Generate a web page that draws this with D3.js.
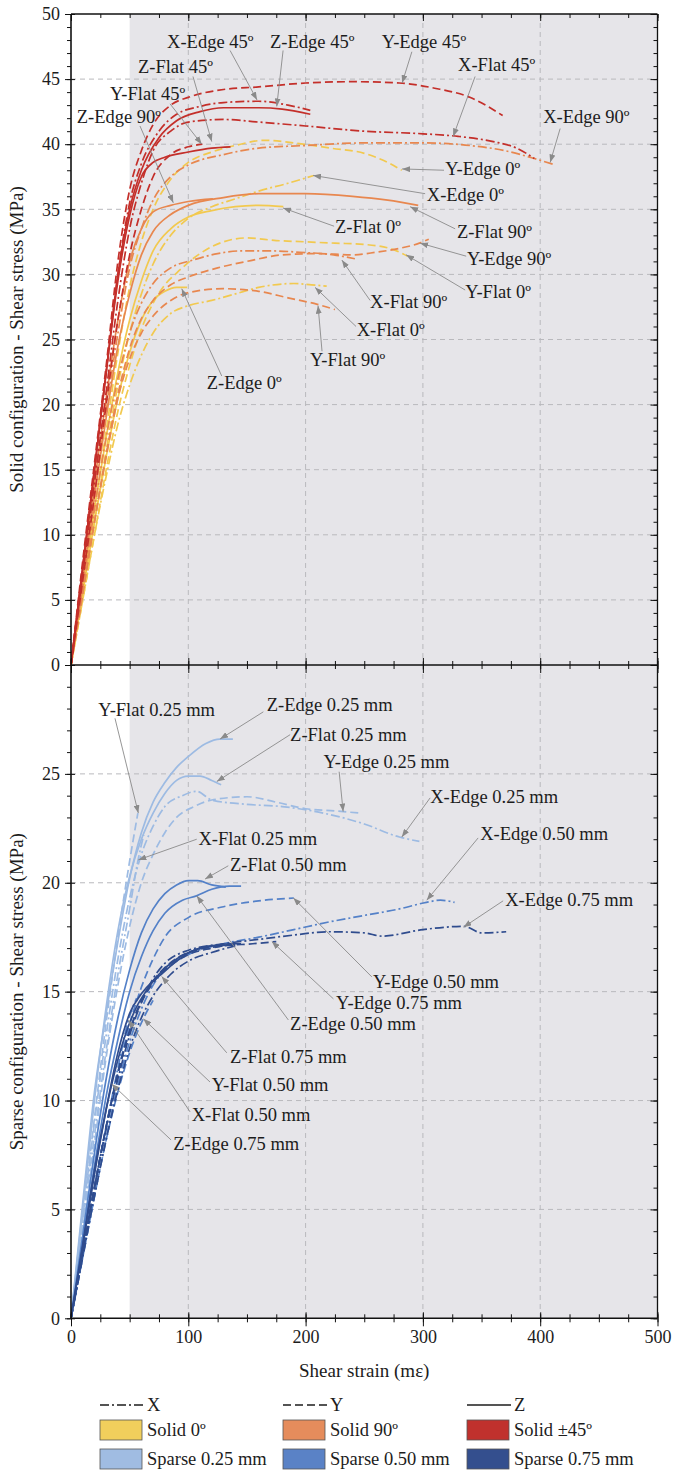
<!DOCTYPE html>
<html>
<head>
<meta charset="utf-8">
<script src="https://cdn.jsdelivr.net/npm/d3@7"></script>
<style>
  body { margin: 0; background: #fff; }
  svg text { font-family: "Liberation Serif", Tinos, "Times New Roman", Times, "DejaVu Serif", serif; fill: #1c1c1c; }
</style>
</head>
<body>
<div id="chart"></div>
<script>
// Shear stress vs shear strain - solid (top) and sparse (bottom) configurations

// ---- Solid configuration curves [strain (mε), stress (MPa)]
const xEdge0 = [[0,0],[10,5.5],[20,11],[30,16.5],[40,21.5],[50,25.5],[60,28.5],[70,30.8],[85,33],[100,34.3],[120,35.2],[140,35.8],[160,36.4],[185,37],[207,37.6]];
const yEdge0 = [[0,0],[10,6],[20,12],[30,18],[40,24],[50,29],[60,32.5],[70,35],[85,37.3],[100,38.6],[120,39.4],[140,39.9],[165,40.3],[190,40.1],[221,39.7],[250,39.3],[270,38.6],[282,38]];
const zEdge0 = [[0,0],[10,5.5],[20,11],[30,16],[40,20.5],[50,24],[60,26.5],[70,28],[80,28.7],[90,29],[99,29]];
const xFlat0 = [[0,0],[10,5],[20,10],[30,14.5],[40,18.5],[50,21.5],[60,23.8],[70,25.5],[85,27],[100,27.6],[120,28],[140,28.5],[160,29],[190,29.3],[205,29.2],[218,29.1]];
const yFlat0 = [[0,0],[10,5],[20,10],[30,15],[40,19.5],[50,23],[60,25.8],[70,27.8],[80,29.2],[90,30.1],[110,31.6],[130,32.5],[150,32.8],[175,32.6],[200,32.5],[225,32.4],[250,32.3],[275,31.9],[287,31.4]];
const zFlat0 = [[0,0],[10,6],[20,12],[30,17.5],[40,22.5],[50,26.5],[60,29.5],[70,31.8],[85,33.5],[100,34.4],[120,34.9],[140,35.2],[160,35.3],[181,35.2]];

const xEdge90 = [[0,0],[10,6.5],[20,13],[30,19.5],[40,25.5],[50,30.5],[60,33.5],[70,35.7],[85,37.5],[100,38.4],[130,39.2],[160,39.7],[200,39.9],[250,40.1],[300,40.1],[340,39.9],[370,39.5],[395,38.9],[413,38.4]];
const yEdge90 = [[0,0],[10,5.5],[20,11],[30,16.2],[40,20.8],[50,24.3],[60,26.6],[70,28],[85,29.2],[100,29.8],[125,30.5],[150,31],[180,31.5],[210,31.6],[240,31.5],[260,31.7],[280,32],[297,32.4],[305,32.7]];
const zEdge90 = [[0,0],[10,7],[20,14],[30,20.5],[40,26.5],[50,31],[60,33.5],[70,34.8],[85,35.3],[100,35.6],[121,35.8]];
const xFlat90 = [[0,0],[10,6],[20,12],[30,17.5],[40,22],[50,25.5],[60,27.8],[70,29.3],[85,30.5],[104,31.1],[125,31.6],[144,31.8],[172,31.8],[195,31.7],[224,31.5],[242,31.2]];
const yFlat90 = [[0,0],[10,5.5],[20,11],[30,16],[40,20.5],[50,23.5],[60,25.5],[70,26.8],[85,28],[100,28.6],[130,28.9],[160,28.7],[185,28.2],[210,27.7],[225,27.3]];
const zFlat90 = [[0,0],[10,6.5],[20,13],[30,19],[40,24.5],[50,28.5],[60,31.5],[70,33.3],[85,34.6],[100,35.3],[130,35.9],[160,36.2],[200,36.2],[240,36],[270,35.7],[296,35.3]];

const xEdge45 = [[0,0],[10,7.5],[20,15],[30,22.5],[40,30],[50,35.5],[60,38.5],[75,41],[90,42.3],[110,42.9],[130,43.2],[160,43.3],[185,43],[204,42.6]];
const yEdge45 = [[0,0],[10,8],[20,15.5],[30,23],[40,31],[50,36.5],[60,39.5],[70,41.5],[85,43],[100,43.6],[130,44.2],[160,44.4],[200,44.7],[240,44.8],[280,44.7],[310,44.3],[340,43.6],[368,42.2]];
const zEdge45 = [[0,0],[10,7.5],[20,15],[30,22.5],[40,30],[50,35],[60,38],[75,40.5],[90,41.8],[110,42.5],[130,42.8],[160,42.8],[180,42.7],[204,42.3]];
const xFlat45 = [[0,0],[10,7],[20,14],[30,21],[40,28],[50,33.5],[60,37],[70,39.5],[85,41],[100,41.7],[130,41.9],[160,41.7],[200,41.4],[250,41],[300,40.8],[330,40.6],[360,40.2],[380,39.7],[395,38.9]];
const yFlat45 = [[0,0],[10,6.5],[20,13],[30,20],[40,26.5],[50,31.5],[60,35],[70,37.5],[85,39.2],[100,39.8],[112,40]];
const zFlat45 = [[0,0],[10,7.5],[20,15],[30,22.5],[40,29.5],[50,34.5],[60,37.5],[70,38.6],[80,39],[100,39.4],[120,39.7],[136,39.8]];

// ---- Sparse configuration curves
const xEdge025 = [[0,0],[10,4.5],[20,9],[30,13],[40,16.5],[50,19.3],[60,21.3],[70,22.6],[80,23.5],[95,24],[107,24.2],[120,23.8],[150,23.6],[180,23.5],[215,23.2],[250,22.7],[280,22.1],[297,21.9]];
const yEdge025 = [[0,0],[10,4],[20,8],[30,12],[40,15.3],[50,18],[60,20],[70,21.3],[80,22.3],[90,23],[105,23.5],[120,23.8],[150,23.95],[175,23.7],[200,23.4],[225,23.3],[246,23.2]];
const zEdge025 = [[0,0],[10,5.3],[20,10.4],[30,14],[40,17.3],[50,20.2],[60,22.3],[70,23.7],[80,24.6],[90,25.3],[100,25.8],[115,26.4],[127,26.6],[138,26.6]];
const xFlat025 = [[0,0],[10,4.2],[20,8.4],[30,12.3],[40,15.8],[50,18.8],[57,21],[62,22.2]];
const yFlat025 = [[0,0],[10,4.6],[20,9.2],[30,13.6],[40,17.5],[50,21],[57,23.2]];
const zFlat025 = [[0,0],[10,5],[20,10],[30,14.3],[40,17.8],[50,20.3],[60,22],[70,23.2],[80,24.1],[90,24.7],[100,24.9],[110,24.9],[120,24.7],[128,24.5]];

const xEdge050 = [[0,0],[10,2.8],[20,5.6],[30,8.3],[40,10.7],[50,12.7],[60,14.2],[70,15.3],[80,16],[100,16.7],[130,17.2],[160,17.5],[190,17.85],[220,18.2],[250,18.5],[280,18.8],[303,19.1],[315,19.2],[327,19.1]];
const yEdge050 = [[0,0],[10,3],[20,6],[30,8.8],[40,11.3],[50,13.5],[60,15.2],[70,16.5],[80,17.5],[100,18.4],[130,18.9],[165,19.2],[190,19.3]];
const zEdge050 = [[0,0],[10,3.5],[20,7],[30,10.2],[40,12.8],[50,15],[60,16.6],[70,17.8],[80,18.6],[95,19.2],[107,19.4],[120,19.7],[135,19.85],[145,19.85]];
const xFlat050 = [[0,0],[10,3],[20,6],[30,8.8],[40,11.5],[49,13.7],[56,14.7]];
const yFlat050 = [[0,0],[10,2.8],[20,5.6],[30,8.2],[40,10.4],[50,12.2],[62,13.8],[70,14.6]];
const zFlat050 = [[0,0],[10,3.8],[20,7.6],[30,11],[40,13.8],[50,16],[60,17.7],[70,18.8],[80,19.5],[90,19.9],[100,20.1],[108,20.1],[120,19.9],[132,19.8]];

const xEdge075 = [[0,0],[10,3],[20,6],[30,8.7],[40,11],[50,13],[60,14.5],[70,15.6],[80,16.3],[100,16.9],[130,17.2],[160,17.4],[190,17.6],[220,17.75],[250,17.7],[265,17.55],[300,17.85],[335,18],[350,17.7],[371,17.75]];
const yEdge075 = [[0,0],[10,3],[20,6],[30,8.8],[40,11.2],[50,13.2],[60,14.6],[70,15.5],[80,16.1],[100,16.8],[130,17.1],[155,17.2],[175,17.3]];
const zEdge075 = [[0,0],[10,3.4],[20,6.8],[30,9.6],[35,10.8],[45,12.8],[55,14.2],[65,15.1],[75,15.8],[90,16.5],[105,16.9],[120,17.1],[140,17.15]];
const xFlat075 = [[0,0],[10,2.8],[20,5.6],[30,8.2],[40,10.5],[50,12.4],[60,13.8],[70,14.8],[85,15.8],[100,16.4],[120,16.8],[140,17.1]];
const yFlat075 = [[0,0],[10,3],[20,6],[30,8.8],[40,11.3],[50,13.2],[60,14.5],[70,15.4],[85,16.2],[100,16.7],[120,17],[140,17.2]];
const zFlat075 = [[0,0],[10,3.3],[20,6.6],[30,9.6],[40,12.2],[50,14],[60,14.9],[70,15.5],[77,15.8],[90,16.4],[105,16.9],[120,17.1],[135,17.2],[145,17.2]];

// ---- series tables: [group, direction, points]
const solidSeries = [
  ["s0","X",xEdge0],["s0","Y",yEdge0],["s0","Z",zEdge0],["s0","X",xFlat0],["s0","Y",yFlat0],["s0","Z",zFlat0],
  ["s90","X",xEdge90],["s90","Y",yEdge90],["s90","Z",zEdge90],["s90","X",xFlat90],["s90","Y",yFlat90],["s90","Z",zFlat90],
  ["s45","X",xEdge45],["s45","Y",yEdge45],["s45","Z",zEdge45],["s45","X",xFlat45],["s45","Y",yFlat45],["s45","Z",zFlat45]
];
const sparseSeries = [
  ["p25","X",xEdge025],["p25","Y",yEdge025],["p25","Z",zEdge025],["p25","X",xFlat025],["p25","Y",yFlat025],["p25","Z",zFlat025],
  ["p50","X",xEdge050],["p50","Y",yEdge050],["p50","Z",zEdge050],["p50","X",xFlat050],["p50","Y",yFlat050],["p50","Z",zFlat050],
  ["p75","X",xEdge075],["p75","Y",yEdge075],["p75","Z",zEdge075],["p75","X",xFlat075],["p75","Y",yFlat075],["p75","Z",zFlat075]
];

// ---- annotations: [text, text x, text y, arrow from x, y, arrow to x, y] in data units
const solidNotes = [
  ["X-Edge 45º", 81.9, 47.4, 135.6, 47.2, 158.6, 43.4],
  ["Z-Edge 45º", 169.7, 47.4, 180.8, 47.2, 175.4, 42.9],
  ["Y-Edge 45º", 265, 47.4, 290.6, 47.1, 282.3, 44.7],
  ["X-Flat 45º", 330, 45.6, 344.5, 45.2, 325.8, 40.6],
  ["Z-Flat 45º", 57.1, 45.5, 104, 45.2, 120, 40.2],
  ["Y-Flat 45º", 33.3, 43.4, 84.4, 43.1, 111.5, 40.0],
  ["Z-Edge 90º", 4.9, 41.6, 58.8, 41.4, 87.2, 35.5],
  ["X-Edge 90º", 402.5, 41.6, 417, 41.2, 408.5, 38.6],
  ["Y-Edge 0º", 319, 37.6, 318, 38.0, 282.3, 38.1],
  ["X-Edge 0º", 303.3, 35.6, 301.9, 36.2, 206.4, 37.6],
  ["Z-Flat 90º", 329, 32.8, 327.5, 33.5, 289.1, 35.2],
  ["Z-Flat 0º", 225.1, 33.2, 224.3, 33.7, 180.8, 35.1],
  ["Y-Edge 90º", 337.5, 30.7, 336.9, 31.4, 297.6, 32.4],
  ["Y-Flat 0º", 336, 28.2, 336, 28.8, 285.7, 31.5],
  ["X-Flat 90º", 255, 27.4, 255, 28.0, 230.9, 31.1],
  ["X-Flat 0º", 243.6, 25.3, 243, 26.0, 208.1, 29.0],
  ["Y-Flat 90º", 203.8, 23.0, 214, 24.1, 210.6, 27.6],
  ["Z-Edge 0º", 115.7, 21.2, 128.5, 22.2, 94.4, 28.9]
];
const sparseNotes = [
  ["Y-Flat 0.25 mm", 23.3, 27.67, 37.5, 27.55, 57.4, 23.2],
  ["Z-Edge 0.25 mm", 166.9, 27.9, 164, 27.85, 127.1, 26.6],
  ["Z-Flat 0.25 mm", 186.8, 26.52, 186.8, 26.8, 124.3, 24.65],
  ["Y-Edge 0.25 mm", 215.2, 25.29, 228.6, 25.1, 232, 23.27],
  ["X-Edge 0.25 mm", 306.2, 23.68, 306.2, 23.9, 282, 22.1],
  ["X-Flat 0.25 mm", 108.6, 21.74, 107.2, 22.0, 57.4, 21.05],
  ["Z-Flat 0.50 mm", 135.6, 20.55, 134.1, 20.78, 114.3, 20.17],
  ["X-Edge 0.50 mm", 348.8, 21.98, 347.1, 22.06, 303.3, 19.2],
  ["X-Edge 0.75 mm", 370.1, 18.94, 368.4, 19.17, 334.6, 17.96],
  ["Y-Edge 0.50 mm", 257.5, 15.17, 256.4, 15.68, 189.6, 19.3],
  ["Y-Edge 0.75 mm", 226, 14.21, 223.7, 14.67, 171.2, 17.3],
  ["Z-Edge 0.50 mm", 186.8, 13.24, 185.3, 13.7, 107.2, 19.4],
  ["Z-Flat 0.75 mm", 135.6, 11.73, 132.8, 12.19, 77.3, 15.7],
  ["Y-Flat 0.50 mm", 120, 10.44, 118.5, 10.85, 61.7, 13.75],
  ["X-Flat 0.50 mm", 102.9, 9.06, 101.5, 9.48, 48.9, 13.7],
  ["Z-Edge 0.75 mm", 87.2, 7.73, 85.3, 8.19, 34.7, 10.76]
];

// ---- legend
const directionLabels = ["X", "Y", "Z"];
const groupKeys = ["s0", "s90", "s45", "p25", "p50", "p75"];
const groupLabels = ["Solid 0º", "Solid 90º", "Solid ±45º", "Sparse 0.25 mm", "Sparse 0.50 mm", "Sparse 0.75 mm"];

const colors = { s0: "#f2c94f", s90: "#e8874f", s45: "#c42f2a", p25: "#9dbbe3", p50: "#5481c8", p75: "#2f4c8e" };
const boxColors = { s0: "#f1cf5c", s90: "#e58c5c", s45: "#c0312d", p25: "#a0bce2", p50: "#5a82c6", p75: "#344f8e" };
const dashes = { X: "9,3,2,3", Y: "8,4", Z: null };
const serif = '"Liberation Serif", Tinos, "Times New Roman", Times, "DejaVu Serif", serif';

const W = 673, H = 1470;
const svg = d3.select("#chart").append("svg").attr("width", W).attr("height", H)
  .attr("font-family", serif);

const x = d3.scaleLinear().domain([0, 500]).range([71, 657.5]);
const yTop = d3.scaleLinear().domain([0, 50]).range([665, 14]);
const yBot = d3.scaleLinear().domain([0, 30]).range([1318.3, 665]);

svg.append("defs").append("marker")
  .attr("id", "arr")
  .attr("viewBox", "0 0 8 6")
  .attr("refX", 8).attr("refY", 3)
  .attr("markerWidth", 8).attr("markerHeight", 6)
  .attr("markerUnits", "userSpaceOnUse")
  .attr("orient", "auto")
  .append("path").attr("d", "M0,0L8,3L0,6Z").attr("fill", "#8a8a8a");

// shaded region from 50 mε onward
svg.append("rect")
  .attr("x", x(50)).attr("y", yTop(50))
  .attr("width", x(500) - x(50)).attr("height", yBot(0) - yTop(50))
  .attr("fill", "#e6e5e9");

// grid lines
function grid(y, vals) {
  const g = svg.append("g").attr("stroke", "#b9b9bd").attr("stroke-dasharray", "5,4").attr("stroke-width", 1);
  g.selectAll("line.h").data(vals).join("line")
    .attr("x1", x(0)).attr("x2", x(500)).attr("y1", d => y(d)).attr("y2", d => y(d));
  g.selectAll("line.v").data([100, 200, 300, 400]).join("line")
    .attr("x1", d => x(d)).attr("x2", d => x(d)).attr("y1", y.range()[1]).attr("y2", y.range()[0]);
}
grid(yTop, d3.range(5, 50, 5));
grid(yBot, d3.range(5, 30, 5));

// curves
function drawCurves(y, series) {
  const line = d3.line().x(d => x(d[0])).y(d => y(d[1])).curve(d3.curveMonotoneX);
  svg.append("g").selectAll("path").data(series).join("path")
    .attr("d", d => line(d[2]))
    .attr("fill", "none")
    .attr("stroke", d => colors[d[0]])
    .attr("stroke-width", 1.7)
    .attr("stroke-dasharray", d => dashes[d[1]]);
}
drawCurves(yTop, solidSeries);
drawCurves(yBot, sparseSeries);

// annotations
function drawNotes(y, notes) {
  const g = svg.append("g");
  g.selectAll("line").data(notes).join("line")
    .attr("x1", d => x(d[3])).attr("y1", d => y(d[4]))
    .attr("x2", d => x(d[5])).attr("y2", d => y(d[6]))
    .attr("stroke", "#8a8a8a").attr("stroke-width", 0.9)
    .attr("marker-end", "url(#arr)");
  g.selectAll("text").data(notes).join("text")
    .attr("x", d => x(d[1])).attr("y", d => y(d[2]))
    .attr("font-family", serif)
    .style("font-size", "18.5px")
    .text(d => d[0]);
}
drawNotes(yTop, solidNotes);
drawNotes(yBot, sparseNotes);

// axes
const fontAxis = g => g.attr("font-family", serif).attr("font-size", 18)
  .call(s => s.selectAll("text").attr("fill", "#1c1c1c").attr("font-family", serif));

// left axes (major with labels, minor ticks)
[[yTop, d3.range(0, 51, 5), d3.range(0, 50, 1)], [yBot, d3.range(0, 26, 5), d3.range(0, 30, 1)]].forEach(([y, major, minor]) => {
  svg.append("g").attr("transform", `translate(${x(0)},0)`)
    .call(d3.axisLeft(y).tickValues(minor).tickSize(4).tickFormat("").tickSizeOuter(0))
    .call(g => g.select(".domain").remove());
  svg.append("g").attr("transform", `translate(${x(0)},0)`)
    .call(d3.axisLeft(y).tickValues(major).tickSize(6).tickPadding(5).tickSizeOuter(0))
    .call(g => g.select(".domain").remove())
    .call(g => g.selectAll(".tick line").attr("x1", 4))
    .call(fontAxis);
  // right border ticks
  svg.append("g").attr("transform", `translate(${x(500)},0)`)
    .call(d3.axisLeft(y).tickValues(minor).tickSize(-4).tickFormat("").tickSizeOuter(0))
    .call(g => g.select(".domain").remove())
    .call(g => g.selectAll(".tick line").attr("x2", -4));
  svg.append("g").attr("transform", `translate(${x(500)},0)`)
    .call(d3.axisLeft(y).tickValues(major).tickSize(7).tickFormat("").tickSizeOuter(0))
    .call(g => g.select(".domain").remove());
});

const xMinor = d3.range(0, 501, 25);
const xMajor = d3.range(0, 501, 100);

// bottom axis
svg.append("g").attr("transform", `translate(0,${yBot(0)})`)
  .call(d3.axisBottom(x).tickValues(xMinor).tickSize(4).tickFormat("").tickSizeOuter(0))
  .call(g => g.select(".domain").remove())
  .call(g => g.selectAll(".tick line").attr("y1", -4));
svg.append("g").attr("transform", `translate(0,${yBot(0)})`)
  .call(d3.axisBottom(x).tickValues(xMajor).tickSize(8).tickPadding(4).tickSizeOuter(0))
  .call(g => g.select(".domain").remove())
  .call(g => g.selectAll(".tick line").attr("y1", -6))
  .call(fontAxis);

// middle axis between panels
svg.append("g").attr("transform", `translate(0,${yTop(0)})`)
  .call(d3.axisBottom(x).tickValues(xMinor).tickSize(4).tickFormat("").tickSizeOuter(0))
  .call(g => g.select(".domain").remove())
  .call(g => g.selectAll(".tick line").attr("y1", -4));
svg.append("g").attr("transform", `translate(0,${yTop(0)})`)
  .call(d3.axisBottom(x).tickValues(xMajor).tickSize(8).tickFormat("").tickSizeOuter(0))
  .call(g => g.select(".domain").remove())
  .call(g => g.selectAll(".tick line").attr("y1", -7));

// top border ticks
svg.append("g").attr("transform", `translate(0,${yTop(50)})`)
  .call(d3.axisTop(x).tickValues(xMinor).tickSize(-4).tickFormat("").tickSizeOuter(0))
  .call(g => g.select(".domain").remove());
svg.append("g").attr("transform", `translate(0,${yTop(50)})`)
  .call(d3.axisTop(x).tickValues(xMajor).tickSize(-7).tickFormat("").tickSizeOuter(0))
  .call(g => g.select(".domain").remove());

svg.selectAll(".tick line").attr("stroke", "#111");

// frame lines
const frame = svg.append("g").attr("stroke", "#111").attr("fill", "none");
frame.append("line").attr("x1", x(0)).attr("x2", x(0)).attr("y1", yTop(50)).attr("y2", yBot(0)).attr("stroke-width", 1.6);
frame.append("line").attr("x1", x(0)).attr("x2", x(500)).attr("y1", yBot(0)).attr("y2", yBot(0)).attr("stroke-width", 1.6);
frame.append("line").attr("x1", x(0)).attr("x2", x(500)).attr("y1", yTop(0)).attr("y2", yTop(0)).attr("stroke-width", 1.6);
frame.append("line").attr("x1", x(0)).attr("x2", x(500)).attr("y1", yTop(50)).attr("y2", yTop(50)).attr("stroke-width", 1.3);
frame.append("line").attr("x1", x(500)).attr("x2", x(500)).attr("y1", yTop(50)).attr("y2", yBot(0)).attr("stroke-width", 1.3);

// axis titles
const title = (t) => t.attr("text-anchor", "middle").attr("font-family", serif).style("font-size", "19px");
svg.append("text")
  .attr("transform", `translate(23,${(yTop(50) + yTop(0)) / 2}) rotate(-90)`)
  .call(title).text("Solid configuration - Shear stress (MPa)");
svg.append("text")
  .attr("transform", `translate(23,${(yBot(30) + yBot(0)) / 2}) rotate(-90)`)
  .call(title).text("Sparse configuration - Shear stress (MPa)");
svg.append("text")
  .attr("x", (x(0) + x(500)) / 2).attr("y", 1377)
  .call(title).text("Shear strain (mε)");

// legend
const colX = [100, 283, 467];
const lg = svg.append("g").attr("font-family", serif);
directionLabels.forEach((d, i) => {
  lg.append("line")
    .attr("x1", colX[i]).attr("x2", colX[i] + 44).attr("y1", 1405).attr("y2", 1405)
    .attr("stroke", "#1c1c1c").attr("stroke-width", 1.5)
    .attr("stroke-dasharray", dashes[d]);
  lg.append("text").attr("x", colX[i] + 47).attr("y", 1411).style("font-size", "18.5px").text(d);
});
groupKeys.forEach((k, i) => {
  const cx = colX[i % 3], top = i < 3 ? 1420 : 1449;
  lg.append("rect")
    .attr("x", cx).attr("y", top).attr("width", 42).attr("height", 20)
    .attr("fill", boxColors[k]).attr("stroke", "#555").attr("stroke-width", 0.8);
  lg.append("text").attr("x", cx + 47).attr("y", top + 16).style("font-size", "18.5px").text(groupLabels[i]);
});
</script>
</body>
</html>
